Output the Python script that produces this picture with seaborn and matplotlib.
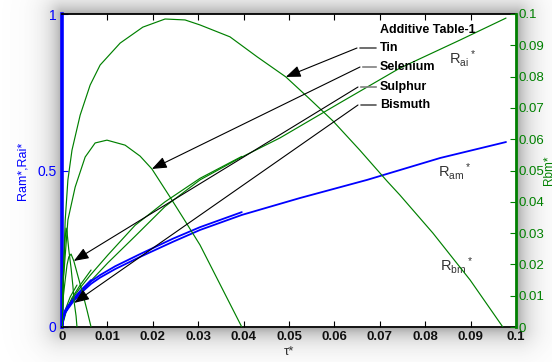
import numpy as np
import matplotlib
matplotlib.use("Agg")
import matplotlib.pyplot as plt
import seaborn as sns

# ---------------- data ----------------
# R_bm* arcs (right axis)
tau_bm_tin = [0, 0.0004, 0.0007, 0.0013, 0.0022, 0.004, 0.0062, 0.0084, 0.0128, 0.0178,
              0.0227, 0.0271, 0.0304, 0.037, 0.043, 0.0493, 0.0546, 0.0597, 0.0656, 0.0716,
              0.0744, 0.0817, 0.0899, 0.0971]
rbm_tin = [0, 0.021, 0.034, 0.047, 0.0565, 0.0677, 0.0773, 0.0837, 0.0907, 0.0958,
           0.0984, 0.0981, 0.0965, 0.0927, 0.0863, 0.0799, 0.0728, 0.0658, 0.0565, 0.0466,
           0.0422, 0.0300, 0.0150, 0]

tau_bm_se = [0, 0.0003, 0.0013, 0.0029, 0.0051, 0.0073, 0.0099, 0.0139, 0.0172, 0.0198,
             0.0238, 0.0271, 0.0304, 0.035, 0.0396]
rbm_se = [0, 0.015, 0.0342, 0.0447, 0.0543, 0.0588, 0.0597, 0.0581, 0.0546, 0.0505,
          0.0415, 0.0339, 0.0262, 0.0131, 0]

tau_bm_s = [0, 0.0002, 0.0007, 0.0011, 0.0015, 0.002, 0.0026, 0.0035, 0.0046, 0.0055, 0.0064]
rbm_s = [0, 0.0086, 0.015, 0.0198, 0.0224, 0.0233, 0.0211, 0.0163, 0.0105, 0.0054, 0]

tau_bm_bi = [0, 0.0002, 0.0004, 0.0007, 0.0009, 0.0011, 0.0015, 0.002, 0.0024, 0.0027, 0.0031, 0.0033]
rbm_bi = [0, 0.0102, 0.0208, 0.0284, 0.0316, 0.0304, 0.0246, 0.0188, 0.0131, 0.0077, 0.0035, 0]

# R_am* (left axis, blue)
tau_am_tin = [0, 0.0002, 0.0007, 0.0013, 0.0024, 0.0042, 0.0064, 0.0084, 0.0117, 0.0172,
              0.0244, 0.0304, 0.0396, 0.0524, 0.0672, 0.0833, 0.0978]
ram_tin = [0, 0.022, 0.045, 0.058, 0.08, 0.109, 0.138, 0.158, 0.185, 0.224,
           0.272, 0.31, 0.358, 0.412, 0.47, 0.54, 0.591]
tau_am_se = [0, 0.0002, 0.0007, 0.0013, 0.0024, 0.0042, 0.0064, 0.0084, 0.0117, 0.0172,
             0.0244, 0.0304, 0.0396]
ram_se = [0, 0.024, 0.048, 0.062, 0.085, 0.115, 0.146, 0.166, 0.194, 0.233, 0.282, 0.319, 0.367]
tau_am_s = [0, 0.0002, 0.0007, 0.0013, 0.0024, 0.0042, 0.0064]
ram_s = [0, 0.026, 0.05, 0.064, 0.088, 0.118, 0.15]
tau_am_bi = [0, 0.0002, 0.0007, 0.0013, 0.0024, 0.0033]
ram_bi = [0, 0.028, 0.053, 0.067, 0.085, 0.097]

# R_ai* (left axis, green)
tau_ai_tin = [0, 0.0007, 0.002, 0.004, 0.0062, 0.0101, 0.0161, 0.0227, 0.0304, 0.0392,
              0.048, 0.0612, 0.0744, 0.0877, 0.0978]
rai_tin = [0, 0.045, 0.075, 0.11, 0.145, 0.205, 0.29, 0.385, 0.47, 0.54,
           0.604, 0.716, 0.827, 0.917, 0.987]
tau_ai_se = [0, 0.0007, 0.002, 0.004, 0.0062, 0.0101, 0.0161, 0.0227, 0.0304, 0.0396]
rai_se = [0, 0.05, 0.085, 0.125, 0.165, 0.23, 0.325, 0.40, 0.475, 0.545]
tau_ai_s = [0, 0.0009, 0.0022, 0.004, 0.0064]
rai_s = [0, 0.048, 0.093, 0.134, 0.182]
tau_ai_bi = [0, 0.0007, 0.0018, 0.0033]
rai_bi = [0, 0.054, 0.096, 0.134]

additives = ["Tin", "Selenium", "Sulphur", "Bismuth"]
x_ticks = [0, 0.01, 0.02, 0.03, 0.04, 0.05, 0.06, 0.07, 0.08, 0.09, 0.1]
x_tick_labels = ["0", "0.01", "0.02", "0.03", "0.04", "0.05", "0.06", "0.07", "0.08", "0.09", "0.1"]
yl_ticks = [0, 0.5, 1]
yl_tick_labels = ["0", "0.5", "1"]
yr_ticks = [0, 0.01, 0.02, 0.03, 0.04, 0.05, 0.06, 0.07, 0.08, 0.09, 0.1]
yr_tick_labels = ["0", "0.01", "0.02", "0.03", "0.04", "0.05", "0.06", "0.07", "0.08", "0.09", "0.1"]

# ---------------- styling ----------------
sns.set_theme(style="white")
plt.rcParams["font.family"] = ["Liberation Sans", "DejaVu Sans"]
plt.rcParams["mathtext.default"] = "regular"

BLUE = "#0000ff"
GREEN = "#008000"
W, H = 552, 362
fig = plt.figure(figsize=(W / 100, H / 100), dpi=100)
fig.patch.set_facecolor("white")

L, R, T, B = 62, 516, 14, 327
# blurred grey frame (shadow) around the axes
yy, xx = np.mgrid[0:H, 0:W]
dx = np.maximum(np.maximum(L - xx, xx - R), 0)
dy = np.maximum(np.maximum(T - yy, yy - B), 0)
d = np.sqrt(dx ** 2 + dy ** 2)
alpha = np.where(d > 0, 0.6 * np.exp(-d / 12.0), 0.0)
img = np.zeros((H, W, 4))
img[..., :3] = 0.42
img[..., 3] = alpha
fig.figimage(img, xo=0, yo=0, origin="upper", zorder=-5)

ax = fig.add_axes([L / W, (H - B) / H, (R - L) / W, (B - T) / H])
ax.set_facecolor("white")
ax2 = ax.twinx()

lw_b, lw_g = 1.3, 0.85
for tx, vy in [(tau_ai_tin, rai_tin), (tau_ai_se, rai_se), (tau_ai_s, rai_s), (tau_ai_bi, rai_bi)]:
    sns.lineplot(x=tx, y=vy, ax=ax, color=GREEN, lw=lw_g, sort=False, estimator=None, legend=False)
for tx, vy in [(tau_am_tin, ram_tin), (tau_am_se, ram_se), (tau_am_s, ram_s), (tau_am_bi, ram_bi)]:
    sns.lineplot(x=tx, y=vy, ax=ax, color=BLUE, lw=lw_b, sort=False, estimator=None, legend=False)
arcs = [(tau_bm_tin, rbm_tin), (tau_bm_se, rbm_se), (tau_bm_s, rbm_s), (tau_bm_bi, rbm_bi)]
for tx, vy in arcs:
    sns.lineplot(x=tx, y=vy, ax=ax2, color=GREEN, lw=lw_g, sort=False, estimator=None, legend=False)

ax.set_xlim(0, 0.1)
ax.set_ylim(0, 1)
ax2.set_ylim(0, 0.1)

ax.set_xticks(x_ticks)
ax.set_xticklabels(x_tick_labels, fontsize=9.5, fontweight="bold", color="#111111")
ax.set_yticks(yl_ticks)
ax.set_yticklabels(yl_tick_labels, fontsize=10)
ax2.set_yticks(yr_ticks)
ax2.set_yticklabels(yr_tick_labels, fontsize=9.5)

ax.tick_params(axis="x", direction="in", top=True, bottom=True, length=4, width=0.8,
               pad=3, color="black")
ax.tick_params(axis="y", direction="in", left=True, right=False, length=4, width=0.8,
               pad=4, colors=BLUE)
ax2.tick_params(axis="y", direction="in", right=True, length=4, width=0.8, pad=2, colors=GREEN)

for s in ["top", "bottom"]:
    ax.spines[s].set_color("black")
    ax.spines[s].set_linewidth(1.3)
ax.spines["left"].set_color(BLUE)
ax.spines["left"].set_linewidth(2.6)
ax.spines["right"].set_visible(False)
for s in ["left", "top", "bottom"]:
    ax2.spines[s].set_visible(False)
ax2.spines["right"].set_color(GREEN)
ax2.spines["right"].set_linewidth(2.0)

ax.set_xlabel("τ*", fontsize=9.5, color="#333333", labelpad=2)
ax.set_ylabel("Ram*,Rai*", fontsize=9, color=BLUE, labelpad=6)
ax2.set_ylabel("Rbm*", fontsize=8.5, color=GREEN, labelpad=-1)

# curve name labels
ax.text((449 - L) / (R - L), (B - 58) / (B - T), "R$_{ai}$$^*$", transform=ax.transAxes,
        fontsize=10.5, color="#333333", ha="left", va="center")
ax.text((438 - L) / (R - L), (B - 171) / (B - T), "R$_{am}$$^*$", transform=ax.transAxes,
        fontsize=10.5, color="#333333", ha="left", va="center")
ax.text((440 - L) / (R - L), (B - 265) / (B - T), "R$_{bm}$$^*$", transform=ax.transAxes,
        fontsize=10.5, color="#333333", ha="left", va="center")

# legend-like annotation block
ax.text((380 - L) / (R - L), (B - 30) / (B - T), "Additive Table-1", transform=ax.transAxes,
        fontsize=9, fontweight="bold", color="black", ha="left", va="center")
label_y_px = [48, 67, 87, 105]
start_x_px = [357, 360, 358, 358]
leader_col = ["black", "#808080", "#808080", "black"]
target_idx = [15, 9, 6, 9]
for name, ypx, sx, col, (tx, vy), ti in zip(additives, label_y_px, start_x_px, leader_col, arcs, target_idx):
    yf = (B - ypx) / (B - T)
    xs = (sx - L) / (R - L)
    xe = (379 - L) / (R - L)
    ax.text(xe + 0.002, yf, name, transform=ax.transAxes, fontsize=9, fontweight="bold",
            color="black", ha="left", va="center")
    ax.annotate("", xy=(xe, yf), xycoords="axes fraction", xytext=(xs, yf),
                textcoords="axes fraction",
                arrowprops=dict(arrowstyle="-", color=col, lw=1.2 if col != "black" else 0.8))
    ax2.annotate("", xy=(tx[ti], vy[ti]), xycoords="data", xytext=(xs, yf),
                 textcoords="axes fraction",
                 arrowprops=dict(arrowstyle="-|>,head_length=0.9,head_width=0.35", color="black",
                                 lw=0.8, mutation_scale=10, shrinkA=0, shrinkB=0))

fig.savefig("out.png", dpi=100, facecolor="white")
